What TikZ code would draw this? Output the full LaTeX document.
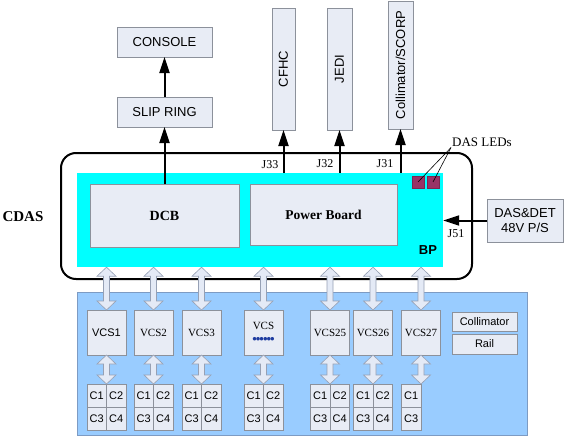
\documentclass[tikz,border=0pt]{standalone}
\usepackage{fontspec}
\setmainfont{Liberation Serif}
\setsansfont{Liberation Sans}
\usepackage{xcolor}
\usepackage{tikz}
\usetikzlibrary{arrows.meta, positioning, calc}

\definecolor{boxfill}{RGB}{232,236,245}
\definecolor{boxline}{RGB}{140,145,155}
\definecolor{bpcyan}{RGB}{0,255,255}
\definecolor{panelblue}{RGB}{153,204,255}
\definecolor{panelline}{RGB}{125,155,195}
\definecolor{ledred}{RGB}{153,51,102}
\definecolor{dotblue}{RGB}{30,60,160}
\definecolor{arrowfill}{RGB}{228,234,246}
\definecolor{arrowline}{RGB}{150,160,180}

% hollow double arrow: x taken from #1, from the height of #2 down to the height of #3
\newcommand{\dblarrow}[3]{%
  \path[fatarrow] let \p1=(#1), \p2=(#2), \p3=(#3) in
    (\x1,\y2) -- ++(9.5pt,-9pt) -- ++(-6.5pt,0pt) -- (\x1+3pt,\y3+9pt)
    -- ++(6.5pt,0pt) -- (\x1,\y3) -- ++(-9.5pt,9pt) -- ++(6.5pt,0pt)
    -- (\x1-3pt,\y2-9pt) -- ++(-6.5pt,0pt) -- cycle;}
\newcommand{\vcsdots}{{\color{dotblue}\fontsize{13}{13}\selectfont\bfseries
  \textbullet\kern-1pt\textbullet\kern-1pt\textbullet\kern-1pt\textbullet\kern-1pt\textbullet\kern-1pt\textbullet}}

\begin{document}
\begin{tikzpicture}[x=1pt, y=-1pt,
box/.style={draw=boxline, fill=boxfill, rectangle, align=center, inner sep=0pt, outer sep=0pt, line width=0.6pt, font=\fontsize{13}{15}\selectfont\sffamily},
vcs/.style={box, minimum width=39pt, minimum height=45pt, font=\fontsize{11}{13}\selectfont\rmfamily},
cell/.style={box, minimum width=19.5pt, minimum height=23pt, font=\fontsize{11}{13}\selectfont\sffamily},
led/.style={draw=ledred!80!black, fill=ledred, minimum size=12pt, inner sep=0pt},
arrow/.style={-{Triangle[length=16pt,width=10pt]}, line width=2pt},
fatarrow/.style={draw=arrowline, fill=arrowfill, line width=0.6pt},
jlab/.style={font=\fontsize{12}{14}\selectfont\rmfamily, inner sep=0pt}
]
\useasboundingbox (0,0) rectangle (564,436);

% lower panel and CDAS frame
\node[draw=panelline, fill=panelblue, minimum width=450pt, minimum height=143pt, inner sep=0pt] (panel) at (302,363.5) {};
\node[draw, line width=2pt, rounded corners=15pt, minimum width=411pt, minimum height=126pt, inner sep=0pt] (frame) at (266.5,216) {};
\node[fill=bpcyan, minimum width=366pt, minimum height=94pt, inner sep=0pt] (bp) at (260,220) {};

\node[box, minimum width=149pt, minimum height=63pt, font=\fontsize{14}{16}\selectfont\rmfamily\bfseries] (dcb) at (164.5,215.5) {DCB};
\node[box, minimum width=147pt, minimum height=61pt, font=\fontsize{13.5}{16}\selectfont\rmfamily\bfseries] (power) at (323.5,214.5) {Power Board};
\node[font=\fontsize{13}{15}\selectfont\sffamily\bfseries] (bplab) at (428,250) {BP};
\node[font=\fontsize{15}{17}\selectfont\rmfamily\bfseries] (cdas) at (23,217) {CDAS};

\node[led] (led1) at (418,182) {};
\node[led] (led2) at (433,182) {};
\node[font=\fontsize{13}{15}\selectfont\rmfamily, inner sep=1pt] (ledlab) at (482,142) {DAS LEDs};
\draw[line width=0.6pt] (ledlab.south west) -- (led1.center);
\draw[line width=0.6pt] (ledlab.south west) -- (led2.center);

% upper boxes
\node[box, minimum width=95pt, minimum height=30pt] (console) at (164.5,42) {CONSOLE};
\node[box, minimum width=95pt, minimum height=30pt] (slip) at (164.5,112) {SLIP RING};
\node[box, rotate=90, minimum width=122pt, minimum height=23pt] (cfhc) at (283.5,69) {CFHC};
\node[box, rotate=90, minimum width=122pt, minimum height=25pt] (jedi) at (339.5,69) {JEDI};
\node[box, rotate=90, minimum width=128pt, minimum height=25pt] (scorp) at (400.5,65) {Collimator/SCORP};
\node[box, minimum width=76pt, minimum height=43pt] (ps) at (525,220.5) {DAS\&DET\\48V P/S};

\draw[arrow] (slip) -- (console);
\draw[arrow] (dcb) -- (slip);
\draw[arrow] (cfhc |- bp.north) -- (cfhc);
\draw[arrow] (jedi |- bp.north) -- (jedi);
\draw[arrow] (scorp |- bp.north) -- (scorp);
\draw[arrow] (ps) -- (ps -| bp.east);

\node[jlab] (j33) at (270,165) {J33};
\node[jlab] (j32) at (325,164) {J32};
\node[jlab] (j31) at (385,164) {J31};
\node[jlab] (j51) at (456,234) {J51};

% VCS boards
\node[vcs, font=\fontsize{11}{13}\selectfont\sffamily] (vcs1) at (106.5,332.5) {VCS1};
\node[vcs] (vcs2) at (153.5,332.5) {VCS2};
\node[vcs] (vcs3) at (201.5,332.5) {VCS3};
\node[vcs] (vcsx) at (263.5,332.5) {VCS\\[1pt]\vcsdots};
\node[vcs] (vcs25) at (330,332.5) {VCS25};
\node[vcs] (vcs26) at (373,332.5) {VCS26};
\node[vcs] (vcs27) at (421,332.5) {VCS27};

\node[box, minimum width=65pt, minimum height=19pt, font=\fontsize{11}{13}\selectfont\sffamily] (collim) at (484.5,321.5) {Collimator};
\node[box, minimum width=65pt, minimum height=20pt, font=\fontsize{11}{13}\selectfont\sffamily] (rail) at (484.5,344) {Rail};

% channel cells
\foreach \k in {1,2,3,x,25,26} {
  \node[cell, anchor=north east] (g\k-1) at ([yshift=-29pt]vcs\k.south) {C1};
  \node[cell, anchor=north west] (g\k-2) at ([yshift=-29pt]vcs\k.south) {C2};
  \node[cell, below=0pt of g\k-1] (g\k-3) {C3};
  \node[cell, below=0pt of g\k-2] (g\k-4) {C4};
}
\node[cell, anchor=north east] (g27-1) at ([yshift=-29pt]vcs27.south) {C1};
\node[cell, below=0pt of g27-1] (g27-3) {C3};

\foreach \k in {1,2,3,x,25,26,27} {
  \dblarrow{vcs\k}{bp.south}{vcs\k.north}
  \dblarrow{vcs\k}{vcs\k.south}{g\k-1.north east}
}

\end{tikzpicture}
\end{document}
